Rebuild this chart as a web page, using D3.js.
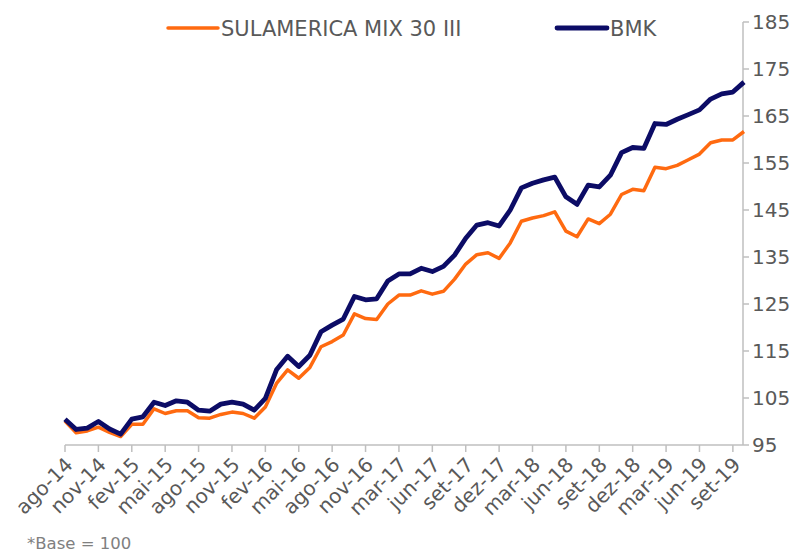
<!DOCTYPE html>
<html>
<head>
<meta charset="utf-8">
<script src="https://cdn.jsdelivr.net/npm/d3@7/dist/d3.min.js"></script>
<style>
  html, body { margin: 0; padding: 0; background: #fff; }
  svg { display: block; font-family: "DejaVu Sans", Verdana, sans-serif; }
</style>
</head>
<body>
<svg id="chart" width="803" height="553"></svg>
<script>
// Categories (monthly)
const months = [
  "ago-14","set-14","out-14","nov-14","dez-14","jan-15","fev-15","mar-15","abr-15","mai-15",
  "jun-15","jul-15","ago-15","set-15","out-15","nov-15","dez-15","jan-16","fev-16","mar-16",
  "abr-16","mai-16","jun-16","jul-16","ago-16","set-16","out-16","nov-16","dez-16","jan-17",
  "mar-17","abr-17","mai-17","jun-17","jul-17","ago-17","set-17","out-17","nov-17","dez-17",
  "jan-18","fev-18","mar-18","abr-18","mai-18","jun-18","jul-18","ago-18","set-18","out-18",
  "nov-18","dez-18","jan-19","fev-19","mar-19","abr-19","mai-19","jun-19","jul-19","ago-19",
  "set-19","out-19"
];
const fundValues = [
  100.1, 97.6, 98.0, 98.8, 97.7, 96.8, 99.4, 99.4, 102.7, 101.7,
  102.3, 102.3, 100.8, 100.7, 101.5, 102.0, 101.7, 100.7, 103.1, 108.1,
  111.0, 109.2, 111.5, 115.9, 117.0, 118.4, 122.9, 121.9, 121.7, 125.0,
  126.9, 126.9, 127.8, 127.1, 127.7, 130.3, 133.5, 135.5, 135.9, 134.7,
  138.0, 142.6, 143.3, 143.8, 144.6, 140.5, 139.3, 143.1, 142.1, 144.1,
  148.3, 149.4, 149.1, 154.1, 153.8, 154.5, 155.7, 156.9, 159.3, 159.9,
  159.9, 161.7
];
const bmkValues = [
  100.5, 98.3, 98.6, 100.0, 98.4, 97.3, 100.5, 101.0, 104.1, 103.4,
  104.4, 104.1, 102.4, 102.2, 103.7, 104.1, 103.7, 102.4, 104.9, 111.0,
  113.9, 111.7, 114.1, 119.1, 120.5, 121.8, 126.6, 125.9, 126.1, 129.9,
  131.4, 131.4, 132.6, 131.9, 133.0, 135.4, 139.0, 141.8, 142.3, 141.6,
  145.0, 149.7, 150.7, 151.4, 152.0, 147.8, 146.2, 150.3, 149.9, 152.4,
  157.2, 158.3, 158.1, 163.4, 163.2, 164.3, 165.3, 166.3, 168.6, 169.7,
  170.1, 172.2
];
const seriesNames = ["SULAMERICA MIX 30 III", "BMK"];
const yTicks = [95, 105, 115, 125, 135, 145, 155, 165, 175, 185];
const labelStep = 3;
const footnote = "*Base = 100";

const svg = d3.select("#chart");
const axisColor = "#BFBFBF";
const textColor = "#595959";
const colors = ["#FF6A10", "#0C0C66"];

const x = d3.scaleLinear().domain([0, months.length - 1]).range([65, 744]);
const y = d3.scaleLinear().domain([95, 185]).range([445, 22]);

// X axis
const xTickIdx = d3.range(0, months.length, labelStep);
const xAxis = svg.append("g").attr("transform", "translate(0,445)");
xAxis.append("line").attr("x1", x(0)).attr("x2", 743).attr("y1", 0).attr("y2", 0)
  .attr("stroke", axisColor).attr("stroke-width", 1.5);
xAxis.selectAll("line.tick").data(xTickIdx).join("line").attr("class", "tick")
  .attr("x1", d => x(d)).attr("x2", d => x(d)).attr("y1", 0).attr("y2", 7)
  .attr("stroke", axisColor).attr("stroke-width", 1.5);
xAxis.selectAll("text").data(xTickIdx).join("text")
  .attr("transform", d => `translate(${x(d) + 4},${16}) rotate(-45)`)
  .attr("text-anchor", "end")
  .attr("dy", "0.35em")
  .attr("font-size", 20)
  .attr("fill", textColor)
  .text(d => months[d]);

// Y axis (right)
const yAxis = svg.append("g").attr("transform", "translate(743,0)");
yAxis.append("line").attr("x1", 0).attr("x2", 0).attr("y1", y(185)).attr("y2", y(95))
  .attr("stroke", axisColor).attr("stroke-width", 1.5);
yAxis.selectAll("line.tick").data(yTicks).join("line").attr("class", "tick")
  .attr("x1", 0).attr("x2", 6).attr("y1", d => y(d)).attr("y2", d => y(d))
  .attr("stroke", axisColor).attr("stroke-width", 1.5);
yAxis.selectAll("text").data(yTicks).join("text")
  .attr("x", 9).attr("y", d => y(d)).attr("dy", "0.35em")
  .attr("font-size", 20).attr("fill", textColor)
  .text(d => d);

// Lines
const line = d3.line().x((d, i) => x(i)).y(d => y(d));
svg.append("path").datum(fundValues).attr("d", line)
  .attr("fill", "none").attr("stroke", colors[0]).attr("stroke-width", 3.5)
  .attr("stroke-linejoin", "round");
svg.append("path").datum(bmkValues).attr("d", line)
  .attr("fill", "none").attr("stroke", colors[1]).attr("stroke-width", 4.8)
  .attr("stroke-linejoin", "round");

// Legend
const legendItems = [
  { name: seriesNames[0], color: colors[0], w: 3.5, x: 168 },
  { name: seriesNames[1], color: colors[1], w: 4.8, x: 557 }
];
const lg = svg.append("g");
legendItems.forEach(it => {
  lg.append("line").attr("x1", it.x).attr("x2", it.x + 50).attr("y1", 28).attr("y2", 28)
    .attr("stroke", it.color).attr("stroke-width", it.w).attr("stroke-linecap", "round");
  lg.append("text").attr("x", it.x + 53).attr("y", 28).attr("dy", "0.36em")
    .attr("font-size", 21).attr("fill", textColor).text(it.name);
});

// Footnote
svg.append("text").attr("x", 27).attr("y", 543).attr("dy", "0.35em")
  .attr("font-size", 16.5).attr("fill", "#808080").text(footnote);
</script>
</body>
</html>
